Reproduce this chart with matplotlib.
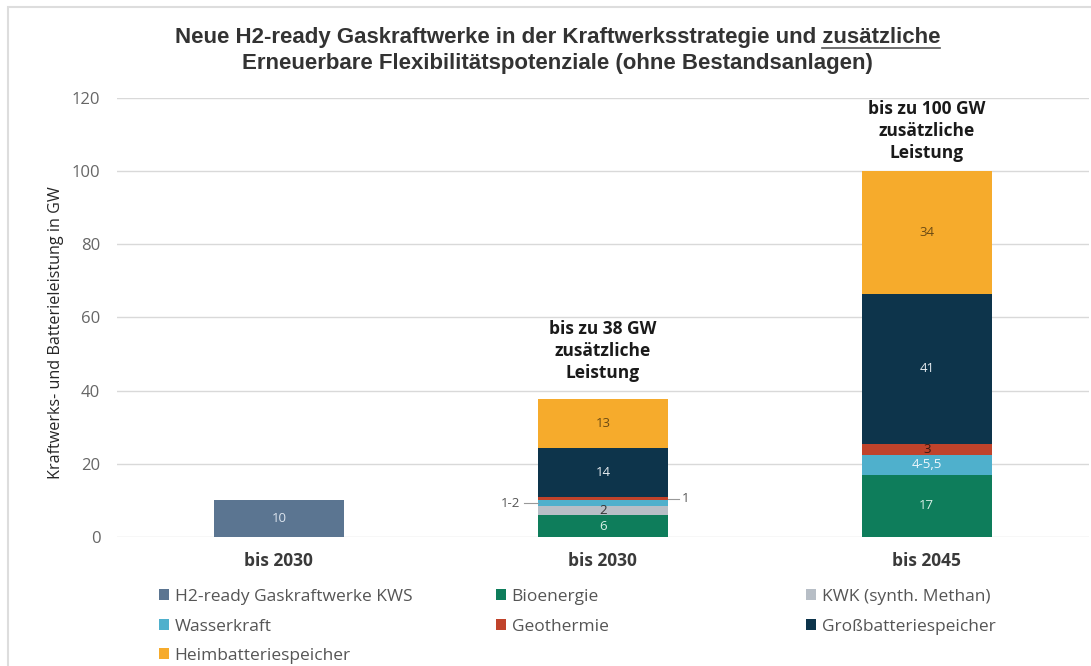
import matplotlib.pyplot as plt
import numpy as np

# categories and stacked series (GW)
categories = ["bis 2030", "bis 2030", "bis 2045"]
h2 = [10, 0, 0]
bio = [0, 6, 17]
kwk = [0, 2.5, 0]
wasser = [0, 1.5, 5.5]
geo = [0, 0.8, 3]
gross = [0, 13.5, 41]
heim = [0, 13.5, 33.5]

names = ["H2-ready Gaskraftwerke KWS", "Bioenergie", "KWK (synth. Methan)",
         "Wasserkraft", "Geothermie", "Großbatteriespeicher", "Heimbatteriespeicher"]
colors = ["#5b7591", "#0e7d5b", "#b7bec6", "#4fb0cc", "#c0432b", "#0d344b", "#f6ab2c"]

# labels shown inside the segments
seg_labels = {
    "H2-ready Gaskraftwerke KWS": ["10", "", ""],
    "Bioenergie": ["", "6", "17"],
    "KWK (synth. Methan)": ["", "2", ""],
    "Wasserkraft": ["", "", "4-5,5"],
    "Geothermie": ["", "", "3"],
    "Großbatteriespeicher": ["", "14", "41"],
    "Heimbatteriespeicher": ["", "13", "34"],
}
label_colors = {
    "H2-ready Gaskraftwerke KWS": "#dce4ee",
    "Bioenergie": "#d8efe6",
    "KWK (synth. Methan)": "#333333",
    "Wasserkraft": "#eef7fb",
    "Geothermie": "#3a1a12",
    "Großbatteriespeicher": "#e8eef2",
    "Heimbatteriespeicher": "#6b4a14",
}
totals_text = ["", "bis zu 38 GW\nzusätzliche\nLeistung", "bis zu 100 GW\nzusätzliche\nLeistung"]
totals_gap = [0, 4.5, 2.5]

series = [h2, bio, kwk, wasser, geo, gross, heim]

plt.rcParams['font.family'] = ['Open Sans', 'DejaVu Sans']

fig = plt.figure(figsize=(10.91, 6.66), dpi=100)
ax = fig.add_axes([0.1072, 0.1937, 0.8908, 0.6592])

x = np.arange(len(categories))
bottom = np.zeros(len(categories))
handles = {}
for name, vals, col in zip(names, series, colors):
    vals = np.array(vals, dtype=float)
    bars = ax.bar(x, vals, 0.4, bottom=bottom, color=col, label=name, zorder=3)
    handles[name] = bars
    for i, b in enumerate(bars):
        txt = seg_labels[name][i]
        if txt:
            ax.text(b.get_x() + b.get_width() / 2, bottom[i] + vals[i] / 2, txt,
                    ha="center", va="center", fontsize=9.5,
                    color=label_colors[name], zorder=4)
    bottom += vals

# small values with leader lines on the 2030 bar
b2 = handles["Wasserkraft"][1]
y_w = b2.get_y() + b2.get_height() / 2
ax.plot([b2.get_x() - 0.045, b2.get_x()], [y_w, y_w], color="#999999", lw=0.8, zorder=4)
ax.text(b2.get_x() - 0.055, y_w, "1-2", ha="right", va="center", fontsize=9.5, color="#555555")
b3 = handles["Geothermie"][1]
y_g = b3.get_y() + b3.get_height() / 2
x_r = b3.get_x() + b3.get_width()
ax.plot([x_r, x_r + 0.035], [y_g, y_g], color="#999999", lw=0.8, zorder=4)
ax.text(x_r + 0.045, y_g, "1", ha="left", va="center", fontsize=9.5, color="#555555")

for i, t in enumerate(totals_text):
    if t:
        ax.text(x[i], bottom[i] + totals_gap[i], t, ha="center", va="bottom", fontsize=12.5,
                fontweight="bold", color="#1a1a1a", linespacing=1.3)

ax.set_xlim(-0.5, 2.5)
ax.set_ylim(0, 120)
ax.set_yticks(np.arange(0, 121, 20))
ax.yaxis.grid(True, color="#d9d9d9", lw=1, zorder=0)
for s in ax.spines.values():
    s.set_visible(False)
ax.tick_params(axis="both", length=0)
ax.tick_params(axis="y", labelsize=12, labelcolor="#666666", pad=12)
ax.set_xticks(x)
ax.set_xticklabels(categories, fontsize=12.5, fontweight="bold", color="#3a3a3a")
ax.tick_params(axis="x", pad=11)
ax.set_ylabel("Kraftwerks- und Batterieleistung in GW", fontsize=11.6, color="#262626")
ax.yaxis.set_label_coords(64 / 1091, 0.5, transform=fig.transFigure)

# title with underlined word
line1 = "Neue H2-ready Gaskraftwerke in der Kraftwerksstrategie und zusätzliche"
line2 = "Erneuerbare Flexibilitätspotenziale (ohne Bestandsanlagen)"
tfont = dict(family="Liberation Sans", fontsize=16, fontweight="bold", color="#333333")
t1 = fig.text(0.511, 1 - 38 / 666, line1, ha="center", va="center", **tfont)
fig.text(0.511, 1 - 63 / 666, line2, ha="center", va="center", **tfont)
fig.canvas.draw()
r = fig.canvas.get_renderer()
bb = t1.get_window_extent(r)
tmp = fig.text(0, 0, "zusätzliche", **tfont)
w = tmp.get_window_extent(r).width
tmp.remove()
W, H = fig.bbox.width, fig.bbox.height
fig.add_artist(plt.Line2D([(bb.x1 - w) / W, bb.x1 / W], [(bb.y0 + 1) / H] * 2,
                          color="#555555", lw=1.2))

# legend in three columns
cols = [["H2-ready Gaskraftwerke KWS", "Wasserkraft", "Heimbatteriespeicher"],
        ["Bioenergie", "Geothermie"],
        ["KWK (synth. Methan)", "Großbatteriespeicher"]]
col_x = [159 / 1091, 496 / 1091, 806 / 1091]
for cx, entries in zip(col_x, cols):
    fig.legend([handles[n] for n in entries], entries, loc="upper left",
               bbox_to_anchor=(cx, 1 - 589 / 666), frameon=False, fontsize=12.5,
               handlelength=0.6, handleheight=0.6, handletextpad=0.3,
               labelspacing=0.78, labelcolor="#555555", borderaxespad=0, borderpad=0)

# light frame
fig.add_artist(plt.Rectangle((0.007, -0.01), 1.1, 1.0, transform=fig.transFigure,
                             fill=False, ec="#dddddd", lw=1.5))

fig.savefig("out.png", dpi=100)
